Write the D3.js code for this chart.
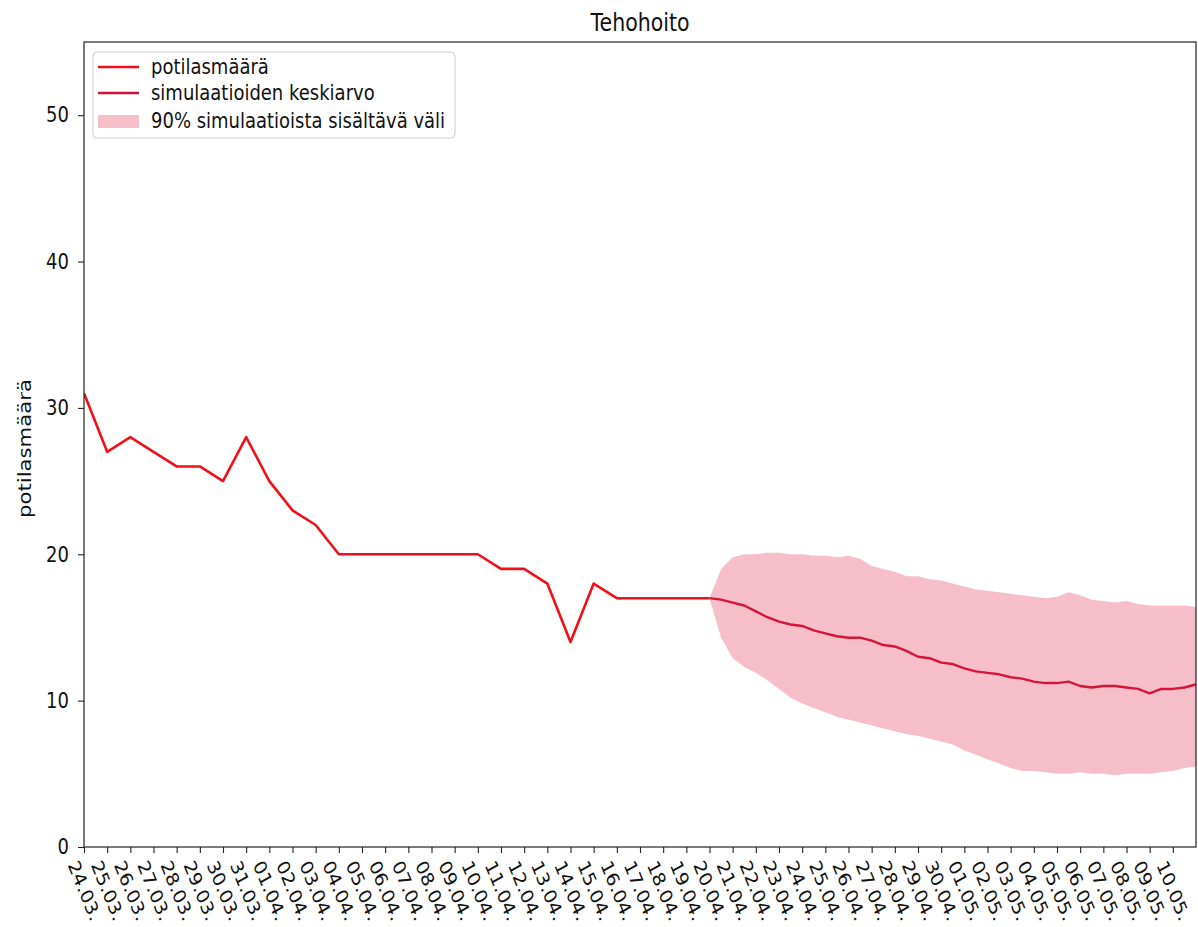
<!DOCTYPE html>
<html>
<head>
<meta charset="utf-8">
<script src="https://cdn.jsdelivr.net/npm/d3@7"></script>
<style>
  body { margin: 0; background: #fff; }
  text { font-family: "DejaVu Sans", sans-serif; fill: #111; }
</style>
</head>
<body>
<svg width="1198" height="927"></svg>
<script>
// observed daily patient counts, starting 24.03.
var obsStart = new Date(2020, 2, 24);
var obsValues = [31, 27, 28, 27, 26, 26, 25, 28, 25, 23, 22, 20, 20, 20, 20, 20, 20, 20,
                 19, 19, 18, 14, 18, 17, 17, 17, 17, 17];

// simulation results, one value every 12 hours from 20.04.
var simStart = new Date(2020, 3, 20);
var simStepHours = 12;
var simMean = [17.0, 16.9, 16.7, 16.5, 16.1, 15.7, 15.4, 15.2, 15.1, 14.8, 14.6, 14.4, 14.3, 14.3,
               14.1, 13.8, 13.7, 13.4, 13.0, 12.9, 12.6, 12.5, 12.2, 12.0, 11.9, 11.8, 11.6, 11.5,
               11.3, 11.2, 11.2, 11.3, 11.0, 10.9, 11.0, 11.0, 10.9, 10.8, 10.5, 10.8, 10.8, 10.9, 11.1];
var simHigh = [17.0, 19.0, 19.8, 20.0, 20.0, 20.1, 20.1, 20.0, 20.0, 19.9, 19.9, 19.8, 19.9, 19.7,
               19.2, 19.0, 18.8, 18.5, 18.5, 18.3, 18.2, 18.0, 17.8, 17.6, 17.5, 17.4, 17.3, 17.2,
               17.1, 17.0, 17.1, 17.4, 17.2, 16.9, 16.8, 16.7, 16.8, 16.6, 16.5, 16.5, 16.5, 16.5, 16.4];
var simLow = [17.0, 14.3, 12.9, 12.3, 11.9, 11.4, 10.8, 10.2, 9.8, 9.5, 9.2, 8.9, 8.7, 8.5,
              8.3, 8.1, 7.9, 7.7, 7.6, 7.4, 7.2, 7.0, 6.6, 6.3, 6.0, 5.7, 5.4, 5.2,
              5.2, 5.1, 5.0, 5.0, 5.1, 5.0, 5.0, 4.9, 5.0, 5.0, 5.0, 5.1, 5.2, 5.4, 5.5];

var yTicks = [0, 10, 20, 30, 40, 50];
var xTickDates = d3.timeDay.range(new Date(2020, 2, 24), new Date(2020, 4, 11));
var legendLabels = ["potilasmäärä", "simulaatioiden keskiarvo", "90% simulaatioista sisältävä väli"];
var title = "Tehohoito", yLabel = "potilasmäärä";

var svg = d3.select("svg"),
    margin = {top: 42, right: 2, bottom: 80, left: 84},
    width = +svg.attr("width") - margin.left - margin.right,
    height = +svg.attr("height") - margin.top - margin.bottom,
    g = svg.append("g").attr("transform", "translate(" + margin.left + "," + margin.top + ")");

// the reference image is stretched a bit vertically, text too
var SY = 1.18;
var stretch = "scale(1," + SY + ")";

var obs = obsValues.map((v, i) => ({date: d3.timeDay.offset(obsStart, i), value: v}));
var sim = simMean.map((v, i) => ({
    date: d3.timeHour.offset(simStart, i * simStepHours),
    mean: v, low: simLow[i], high: simHigh[i]
}));

var x = d3.scaleTime()
    .domain([new Date(2020, 2, 24), new Date(2020, 4, 11)])
    .range([0, width]);
var y = d3.scaleLinear().domain([0, 55]).range([height, 0]);

svg.append("defs").append("clipPath").attr("id", "clip")
  .append("rect").attr("width", width).attr("height", height);

var plot = g.append("g").attr("clip-path", "url(#clip)");

plot.append("path")
    .datum(obs)
    .attr("fill", "none")
    .attr("stroke", "#f0101a")
    .attr("stroke-width", 2.6)
    .attr("stroke-linejoin", "round")
    .attr("d", d3.line().x(d => x(d.date)).y(d => y(d.value)));

plot.append("path")
    .datum(sim)
    .attr("fill", "none")
    .attr("stroke", "#d41438")
    .attr("stroke-width", 2.4)
    .attr("stroke-linejoin", "round")
    .attr("d", d3.line().x(d => x(d.date)).y(d => y(d.mean)));

plot.append("path")
    .datum(sim)
    .attr("fill", "#dc143c")
    .attr("fill-opacity", 0.28)
    .attr("d", d3.area().x(d => x(d.date)).y0(d => y(d.low)).y1(d => y(d.high)));

// axes
var xAxis = g.append("g")
    .attr("transform", "translate(0," + height + ")")
    .call(d3.axisBottom(x).tickValues(xTickDates).tickSize(6).tickFormat(d3.timeFormat("%d.%m.")));
xAxis.attr("font-size", null).attr("font-family", null);
xAxis.select(".domain").remove();
xAxis.selectAll(".tick line").attr("stroke", "#222").attr("stroke-width", 1.1);
xAxis.selectAll(".tick text")
    .attr("x", 0).attr("y", 0).attr("dy", 0)
    .attr("text-anchor", "start")
    .style("font-size", "17px")
    .attr("transform", "translate(-17,18) " + stretch + " rotate(64.5)");

var yAxis = g.append("g")
    .call(d3.axisLeft(y).tickValues(yTicks).tickSize(6).tickPadding(9));
yAxis.attr("font-size", null).attr("font-family", null);
yAxis.select(".domain").remove();
yAxis.selectAll(".tick line").attr("stroke", "#222").attr("stroke-width", 1.1);
yAxis.selectAll(".tick text")
    .style("font-size", "18px")
    .attr("transform", stretch);

// frame
g.append("rect")
    .attr("width", width).attr("height", height)
    .attr("fill", "none").attr("stroke", "#222").attr("stroke-width", 1.2);

// title and y label
g.append("text")
    .attr("transform", "translate(" + width / 2 + ",-11) " + stretch)
    .attr("text-anchor", "middle")
    .style("font-size", "20.5px")
    .text(title);

svg.append("text")
    .attr("transform", "translate(31," + (margin.top + height / 2 + 4) + ") " + stretch + " rotate(-90)")
    .attr("text-anchor", "middle")
    .style("font-size", "18px")
    .text(yLabel);

// legend
var legend = g.append("g").attr("transform", "translate(9,10)");
legend.append("rect")
    .attr("width", 362).attr("height", 86).attr("rx", 4)
    .attr("fill", "#fff").attr("fill-opacity", 0.8)
    .attr("stroke", "#ccc").attr("stroke-width", 1);

var rows = [15, 41, 69];
legend.append("line").attr("x1", 5).attr("x2", 46).attr("y1", rows[0]).attr("y2", rows[0])
    .attr("stroke", "#f0101a").attr("stroke-width", 2.6);
legend.append("line").attr("x1", 5).attr("x2", 46).attr("y1", rows[1]).attr("y2", rows[1])
    .attr("stroke", "#d41438").attr("stroke-width", 2.4);
legend.append("rect").attr("x", 5).attr("y", rows[2] - 6).attr("width", 41).attr("height", 13)
    .attr("fill", "#dc143c").attr("fill-opacity", 0.28);

legend.selectAll(".lbl")
    .data(legendLabels)
    .enter().append("text")
    .attr("class", "lbl")
    .attr("transform", (d, i) => "translate(58," + rows[i] + ") " + stretch)
    .attr("dy", "0.35em")
    .style("font-size", "18px")
    .text(d => d);
</script>
</body>
</html>
